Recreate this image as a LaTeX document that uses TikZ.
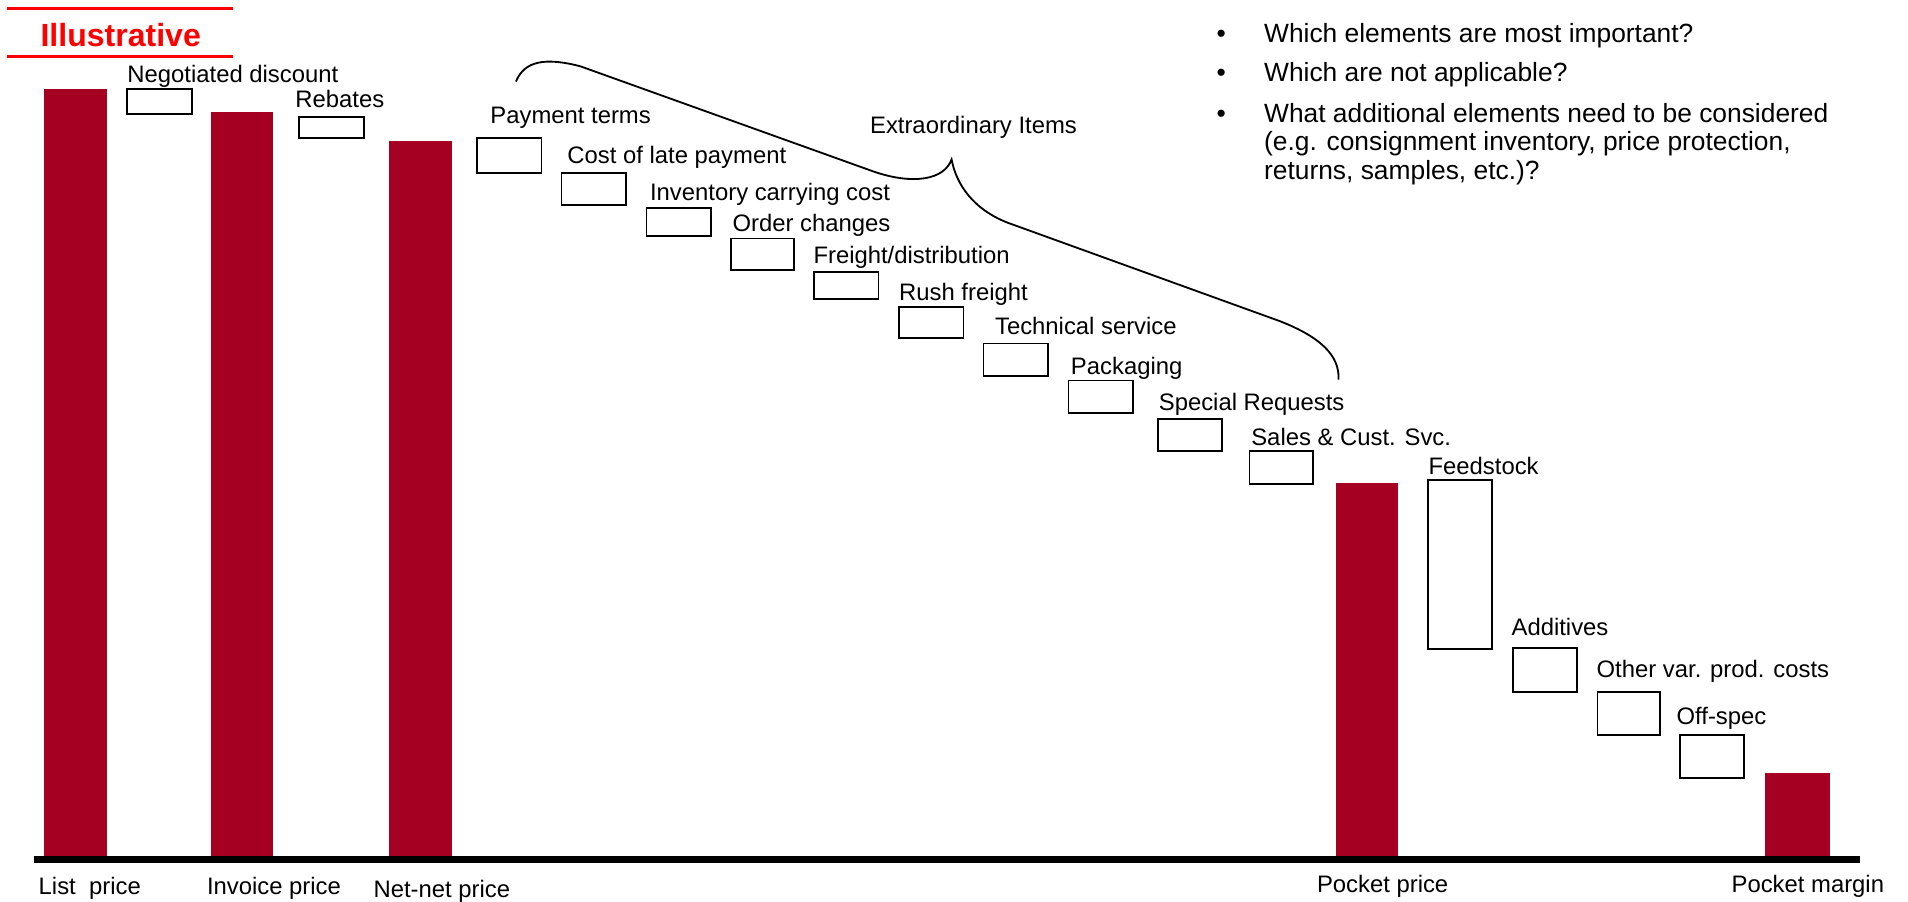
\documentclass[tikz,border=0pt]{standalone}
\usepackage{fontspec}
\setmainfont{Liberation Sans}
\definecolor{barred}{RGB}{165,0,33}
\definecolor{tagred}{RGB}{255,0,0}
\begin{document}
\begin{tikzpicture}[x=0.6pt,y=-0.6pt,
  lbl/.style={anchor=base west, inner sep=0pt, font=\fontsize{11.76pt}{14pt}\selectfont},
  qtext/.style={anchor=base west, inner sep=0pt, align=left, font=\fontsize{13pt}{14.1pt}\selectfont},
  costbox/.style={draw=black, line width=0.85pt, fill=white},
  pricebar/.style={fill=barred},
  tagline/.style={draw=tagred, line width=1.5pt},
  bracepath/.style={draw=black, line width=0.9pt},
  axisline/.style={draw=black, line width=3.4pt}]
\useasboundingbox (0,0) rectangle (1568,741);

% Illustrative tag
\draw[tagline] (5.8,6.6) -- (191.5,6.6);
\draw[tagline] (5.8,46.8) -- (191.5,46.8);
\node[anchor=base west, inner sep=0pt, text=tagred, font=\fontsize{15.8pt}{18pt}\selectfont\bfseries] (illus) at (33,38.6) {Illustrative};

% price bars
\fill[pricebar] (36.3,73.1) rectangle (88,706);
\fill[pricebar] (173.4,92) rectangle (224.4,706);
\fill[pricebar] (319.7,115.9) rectangle (371.5,706);
\fill[pricebar] (1098,397.2) rectangle (1148.8,706);
\fill[pricebar] (1450.3,635.6) rectangle (1503.7,706);

% axis
\draw[axisline] (27.7,706.2) -- (1528.6,706.2);

% cost boxes
\draw[costbox] (104.4,73.1) rectangle (157.8,93.7);
\draw[costbox] (245.7,96.2) rectangle (299.1,113.4);
\draw[costbox] (391.8,113.7) rectangle (445,141.9);
\draw[costbox] (461.5,141.9) rectangle (514.7,168.2);
\draw[costbox] (531.2,170.7) rectangle (584.5,194);
\draw[costbox] (601,196.1) rectangle (652.3,221.9);
\draw[costbox] (668.8,223.8) rectangle (722,245.7);
\draw[costbox] (738.6,252) rectangle (791.8,278);
\draw[costbox] (808.3,282.2) rectangle (861.4,309);
\draw[costbox] (878,312.8) rectangle (931,339.7);
\draw[costbox] (951.5,344.6) rectangle (1004.3,370.7);
\draw[costbox] (1026.8,370.7) rectangle (1079.3,397.5);
\draw[costbox] (1173.3,394.5) rectangle (1226.2,533.1);
\draw[costbox] (1243.3,532.8) rectangle (1296.2,568.4);
\draw[costbox] (1312.7,568.4) rectangle (1363.9,603.8);
\draw[costbox] (1380.8,603.8) rectangle (1433.4,639.1);

% labels
\node[lbl] (lnd) at (104.4,68) {Negotiated discount};
\node[lbl] (lreb) at (242.4,88.2) {Rebates};
\node[lbl] (lpt) at (402.7,101.4) {Payment terms};
\node[lbl] (lcost) at (466,134.2) {Cost of late payment};
\node[lbl] (linv) at (533.9,164.4) {Inventory carrying cost};
\node[lbl] (lord) at (601.7,190.6) {Order changes};
\node[lbl] (lfrt) at (668.2,216.6) {Freight/distribution};
\node[lbl] (lrush) at (738.6,246.6) {Rush freight};
\node[lbl] (ltech) at (817.4,275.3) {Technical service};
\node[lbl] (lpack) at (879.8,308) {Packaging};
\node[lbl] (lspec) at (952,337.6) {Special Requests};
\node[lbl] (lsales) at (1028,366.3) {Sales \& Cust. Svc.};
\node[lbl] (lfeed) at (1173.7,389.8) {Feedstock};
\node[lbl] (ladd) at (1241.9,521.9) {Additives};
\node[lbl] (lother) at (1311.8,556.9) {Other var. prod. costs};
\node[lbl] (loff) at (1377.5,595.3) {Off-spec};
\node[lbl] (lextra) at (714.7,110.1) {Extraordinary Items};

% bottom labels
\node[lbl] (blist) at (31.5,735.5) {List\ \ price};
\node[lbl] (binv) at (169.8,735.5) {Invoice price};
\node[lbl] (bnet) at (306.7,737.5) {Net-net price};
\node[lbl] (bpocket) at (1082,733.3) {Pocket price};
\node[lbl] (bmargin) at (1422.7,733.3) {Pocket margin};

% brace
\draw[bracepath] (424,67) .. controls (431,50) and (448,47) .. (477,54.5)
  -- (718,141) .. controls (750,152) and (776,148) .. (782,131)
  .. controls (786,152) and (800,172) .. (828,183)
  -- (1052,264) .. controls (1085,277) and (1101,292) .. (1100,312);

% questions
\node[qtext] (b1) at (999.5,35) {•};
\node[qtext] (q1) at (1038.5,35) {Which elements are most important?};
\node[qtext] (b2) at (999.5,67) {•};
\node[qtext] (q2) at (1038.5,67) {Which are not applicable?};
\node[qtext] (b3) at (999.5,100.5) {•};
\node[qtext] (q3a) at (1038.5,100.5) {What additional elements need to be considered};
\node[qtext] (q3b) at (1038.5,124) {(e.g. consignment inventory, price protection,};
\node[qtext] (q3c) at (1038.5,147.5) {returns, samples, etc.)?};
\end{tikzpicture}
\end{document}
